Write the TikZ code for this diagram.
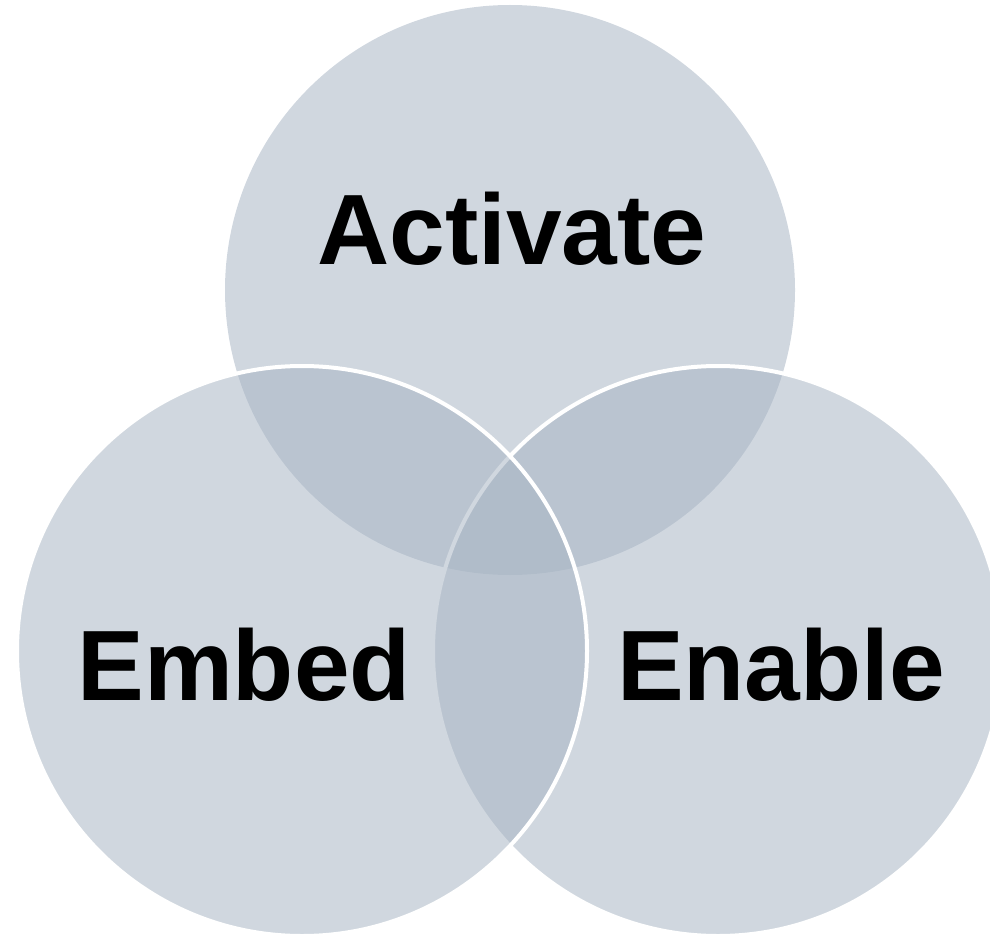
\documentclass[tikz,border=0pt]{standalone}
\usepackage{fontspec}
\setmainfont{Liberation Sans}
\definecolor{vennfill}{RGB}{167,180,195}
\begin{document}
\begin{tikzpicture}[x=1pt,y=-1pt,
  petal/.style={circle, inner sep=0pt, outer sep=0pt, minimum size=570pt,
    fill=vennfill, fill opacity=0.53},
  rim/.style={draw=white, line width=4pt},
  word/.style={font=\fontsize{100}{120}\selectfont\bfseries, text=black,
    inner sep=0pt, anchor=base}]
\useasboundingbox (0,0) rectangle (990,936);
% three overlapping translucent discs
\node[petal] (activatec) at (510,290) {};
\node[petal,rim] (enablec) at (718,651) {};
\node[petal,rim] (embedc) at (302,651) {};
% labels
\node[word] (activate) at (512,264) {Activate};
\node[word] (embed) at (244,700) {Embed};
\node[word] (enable) at (781,700) {Enable};
\end{tikzpicture}
\end{document}
